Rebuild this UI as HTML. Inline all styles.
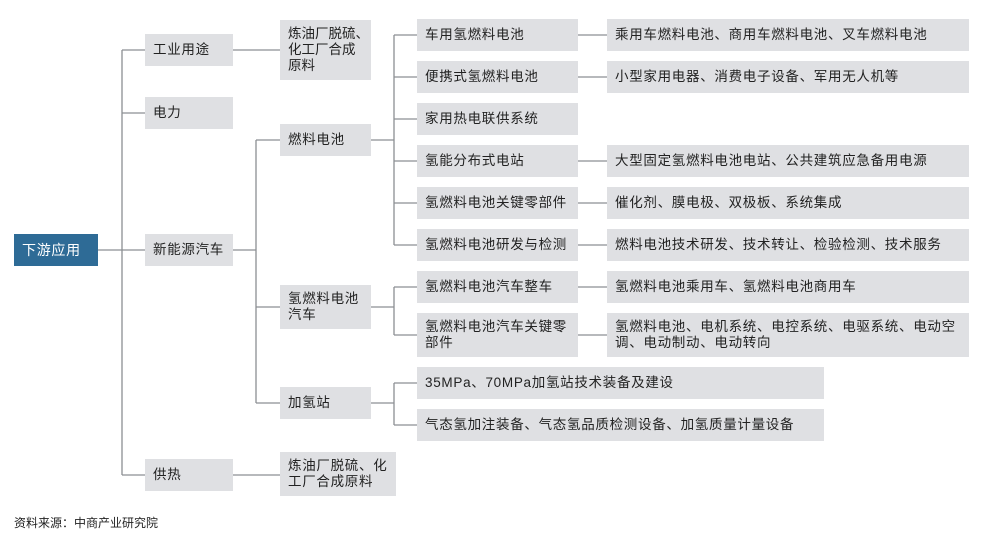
<!DOCTYPE html>
<html><head><meta charset="utf-8"><style>
body{margin:0;width:997px;height:547px;background:#fff;position:relative;overflow:hidden;font-family:"Liberation Sans","Noto Sans CJK SC",sans-serif;}
.b{position:absolute;background:#dfe0e3;color:#222;font-size:13.5px;letter-spacing:0.7px;line-height:16px;box-sizing:border-box;padding:0 8px;display:flex;align-items:center;white-space:nowrap;}
svg{position:absolute;left:0;top:0}
</style></head><body>
<svg width="997" height="547"><g stroke="#8c8f93" stroke-width="1.3" fill="none">
<path d="M97 250H145M122 50V475M122 50H145M122 113H145M122 475H145"/>
<path d="M232 50H280M232 250H256M256 140V403M256 140H280M256 307H280M256 403H280M232 475H280"/>
<path d="M370 140H394M394 35V245M394 35H417M394 77H417M394 119H417M394 161H417M394 203H417M394 245H417"/>
<path d="M370 307H394M394 287V335M394 287H417M394 335H417"/>
<path d="M370 403H394M394 383V425M394 383H417M394 425H417"/>
<path d="M578 35H607M578 77H607M578 161H607M578 203H607M578 245H607M578 287H607M578 335H607"/>
</g></svg>
<div class="b" style="left:14px;top:234px;width:84px;height:32px;background:#2e6b96;color:#fff;font-size:14px">下游应用</div>
<div class="b" style="left:145px;top:34px;width:88px;height:32px">工业用途</div>
<div class="b" style="left:145px;top:97px;width:88px;height:32px">电力</div>
<div class="b" style="left:145px;top:234px;width:88px;height:32px">新能源汽车</div>
<div class="b" style="left:145px;top:459px;width:88px;height:32px">供热</div>
<div class="b" style="left:280px;top:20px;width:91px;height:60px;letter-spacing:0">炼油厂脱硫、<br>化工厂合成<br>原料</div>
<div class="b" style="left:280px;top:124px;width:91px;height:32px">燃料电池</div>
<div class="b" style="left:280px;top:285px;width:91px;height:44px">氢燃料电池<br>汽车</div>
<div class="b" style="left:280px;top:387px;width:91px;height:32px">加氢站</div>
<div class="b" style="left:280px;top:452px;width:116px;height:44px">炼油厂脱硫、化<br>工厂合成原料</div>
<div class="b" style="left:417px;top:19px;width:161px;height:32px">车用氢燃料电池</div>
<div class="b" style="left:417px;top:61px;width:161px;height:32px">便携式氢燃料电池</div>
<div class="b" style="left:417px;top:103px;width:161px;height:32px">家用热电联供系统</div>
<div class="b" style="left:417px;top:145px;width:161px;height:32px">氢能分布式电站</div>
<div class="b" style="left:417px;top:187px;width:161px;height:32px">氢燃料电池关键零部件</div>
<div class="b" style="left:417px;top:229px;width:161px;height:32px">氢燃料电池研发与检测</div>
<div class="b" style="left:417px;top:271px;width:161px;height:32px">氢燃料电池汽车整车</div>
<div class="b" style="left:417px;top:313px;width:161px;height:44px">氢燃料电池汽车关键零<br>部件</div>
<div class="b" style="left:417px;top:367px;width:407px;height:32px">35MPa、70MPa加氢站技术装备及建设</div>
<div class="b" style="left:417px;top:409px;width:407px;height:32px">气态氢加注装备、气态氢品质检测设备、加氢质量计量设备</div>
<div class="b" style="left:607px;top:19px;width:362px;height:32px">乘用车燃料电池、商用车燃料电池、叉车燃料电池</div>
<div class="b" style="left:607px;top:61px;width:362px;height:32px">小型家用电器、消费电子设备、军用无人机等</div>
<div class="b" style="left:607px;top:145px;width:362px;height:32px">大型固定氢燃料电池电站、公共建筑应急备用电源</div>
<div class="b" style="left:607px;top:187px;width:362px;height:32px">催化剂、膜电极、双极板、系统集成</div>
<div class="b" style="left:607px;top:229px;width:362px;height:32px">燃料电池技术研发、技术转让、检验检测、技术服务</div>
<div class="b" style="left:607px;top:271px;width:362px;height:32px">氢燃料电池乘用车、氢燃料电池商用车</div>
<div class="b" style="left:607px;top:313px;width:362px;height:44px">氢燃料电池、电机系统、电控系统、电驱系统、电动空<br>调、电动制动、电动转向</div>
<div style="position:absolute;left:14px;top:514px;font-size:12px;color:#222">资料来源：中商产业研究院</div>
</body></html>
